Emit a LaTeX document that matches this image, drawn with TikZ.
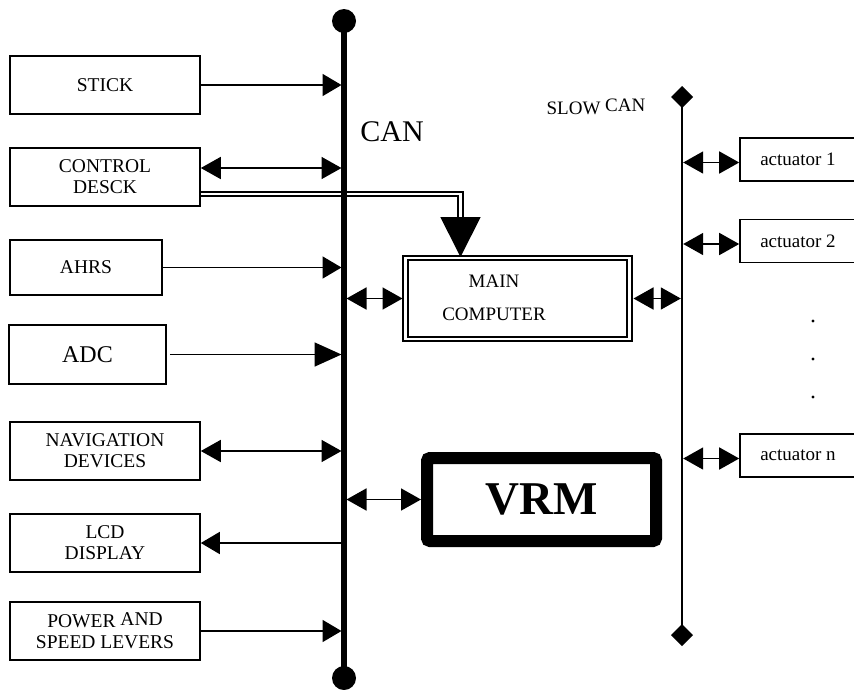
\documentclass[tikz,border=0pt]{standalone}
\usepackage{fontspec}
\setmainfont{Liberation Serif}
\usetikzlibrary{arrows.meta,positioning}

\begin{document}
\begin{tikzpicture} [x=1pt, y=-1pt, node distance=92pt,
  block/.style={rectangle, draw, line width=1.6pt, minimum width=190pt, minimum height=58pt, align=center, font=\fontsize{19.5pt}{21pt}\selectfont},
  actuator/.style={rectangle, draw, line width=1.6pt, minimum width=116pt, minimum height=43pt, font=\fontsize{19pt}{21pt}\selectfont},
  conn/.style={line width=1.7pt, -{Triangle[length=19pt, width=22pt]}},
  biconn/.style={line width=1.7pt, {Triangle[length=20pt, width=22pt]}-{Triangle[length=20pt, width=22pt]}}]
\useasboundingbox (0,0) rectangle (854,689);

	% units on the left
	\node [block] (stick) at (105,85) {STICK};
	\node [block, below of=stick] (control) {CONTROL\\DESCK};
	\node [block, minimum width=152pt, minimum height=55pt] (ahrs) at (86,267.5) {AHRS};
	\node [block, minimum width=157pt, minimum height=59pt, font=\fontsize{24pt}{26pt}\selectfont] (adc) at (87.5,354.5) {ADC};
	\node [block] (nav) at (105,451) {NAVIGATION\\DEVICES};
	\node [block, below of=nav] (lcd) {LCD\\DISPLAY};
	\node [block, below of=lcd, node distance=88pt] (power) {POWER \raisebox{2pt}{AND}\\SPEED LEVERS};

	% middle
	\node [rectangle, draw, double, line width=2pt, double distance=2.6pt, minimum width=224pt, minimum height=81pt, inner sep=0pt] (maincomp) at (517.5,298.5) {};
	\node [align=center, font=\fontsize{19pt}{21pt}\selectfont] (mainlbl) at (494,298) {MAIN\\[12pt]COMPUTER};
	\node [rectangle, draw, line width=12pt, rounded corners=3pt, minimum width=229pt, minimum height=83pt, font=\bfseries\fontsize{47pt}{50pt}\selectfont] (vrm) at (541.5,499.5) {VRM};

	% actuators on the right
	\node [actuator] (act1) at (798,159.5) {actuator 1};
	\node [actuator, below of=act1, node distance=81.5pt] (act2) {actuator 2};
	\node [actuator, below of=act2, node distance=214.5pt] (actn) {actuator n};
	\fill (813,321) circle (1.7pt) (813,359) circle (1.7pt) (813,397) circle (1.7pt);

	% busses
	\coordinate (cantop) at (344,21);
	\coordinate (canbot) at (344,678);
	\coordinate (slowtop) at (682,97);
	\coordinate (slowbot) at (682,635);

	\draw [double, line width=1.8pt, double distance=2.8pt, -{Triangle[length=40pt, width=40pt]}] ([yshift=-17pt]control.east) -| ([xshift=-57pt]maincomp.north);

	\draw [line width=5.3pt] (cantop) -- (canbot);
	\fill (cantop) circle (12pt);
	\fill (canbot) circle (12pt);
	\node [font=\fontsize{30pt}{32pt}\selectfont] (canlbl) at (392,132) {CAN};

	\draw [line width=2.5pt] (slowtop) -- (slowbot);
	\fill (slowtop) +(-11pt,0) -- +(0,11pt) -- +(11pt,0) -- +(0,-11pt) -- cycle;
	\fill (slowbot) +(-11pt,0) -- +(0,11pt) -- +(11pt,0) -- +(0,-11pt) -- cycle;
	\node [font=\fontsize{19pt}{21pt}\selectfont] (slowlbl) at (596,107) {SLOW \raisebox{3pt}{CAN}};

	% draw edges
	\draw [conn, shorten >=2.5pt] (stick) -- (stick -| cantop);
	\draw [biconn, shorten >=2.5pt] ([yshift=9pt]control.east) -- ([yshift=9pt]control.east -| cantop);
	\draw [conn, shorten >=2.5pt] (ahrs) -- (ahrs -| cantop);
	\draw [line width=1.7pt, -{Triangle[length=27pt, width=24pt]}, shorten <=3pt, shorten >=2.5pt] (adc) -- (adc -| cantop);
	\draw [biconn, shorten >=2.5pt] (nav) -- (nav -| cantop);
	\draw [conn, shorten <=2.5pt] (lcd -| cantop) -- (lcd);
	\draw [conn, shorten >=2.5pt] (power) -- (power -| cantop);

	\draw [biconn, shorten <=2.5pt, shorten >=2pt] (maincomp.west -| cantop) -- (maincomp.west);
	\draw [biconn, shorten <=2.5pt] (vrm.west -| cantop) -- (vrm.west);
	\draw [biconn, shorten <=3pt, shorten >=1.2pt] (maincomp.east) -- (maincomp.east -| slowtop);

	\draw [biconn, shorten <=1.2pt] ([yshift=-3pt]act1.west -| slowtop) -- ([yshift=-3pt]act1.west);
	\draw [biconn, shorten <=1.2pt] ([yshift=-3pt]act2.west -| slowtop) -- ([yshift=-3pt]act2.west);
	\draw [biconn, shorten <=1.2pt] ([yshift=-3pt]actn.west -| slowtop) -- ([yshift=-3pt]actn.west);
\end{tikzpicture}
\end{document}
